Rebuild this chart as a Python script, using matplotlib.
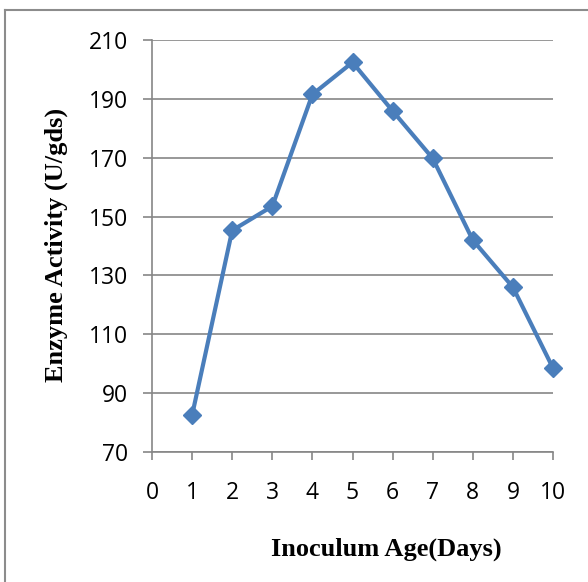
import matplotlib.pyplot as plt
from matplotlib.lines import Line2D

# inoculum age (days) vs enzyme activity
days = [1, 2, 3, 4, 5, 6, 7, 8, 9, 10]
activity = [82.5, 145.3, 153.5, 191.5, 202.4, 185.9, 169.8, 142.0, 126.0, 98.5]
y_ticks = [70, 90, 110, 130, 150, 170, 190, 210]
x_ticks = list(range(0, 11))

AXIS_GREY = "#868686"
LINE_BLUE = "#4A7EBB"

fig = plt.figure(figsize=(5.88, 5.82), dpi=100)
ax = fig.add_axes([152 / 588, 1 - 452 / 582, 401 / 588, 412 / 582])

ax.plot(days, activity, color=LINE_BLUE, linewidth=3, marker="D",
        markersize=9, markerfacecolor=LINE_BLUE, markeredgecolor=LINE_BLUE,
        clip_on=False, zorder=5)

ax.set_xlim(0, 10)
ax.set_ylim(70, 210)
ax.set_xticks(x_ticks)
ax.set_yticks(y_ticks)

for side in ["top", "right"]:
    ax.spines[side].set_visible(False)
for side in ["left", "bottom"]:
    ax.spines[side].set_color(AXIS_GREY)
    ax.spines[side].set_linewidth(1.2)

ax.yaxis.grid(True, color=AXIS_GREY, linewidth=1.2)
ax.set_axisbelow(True)

ax.tick_params(axis="both", colors=AXIS_GREY, width=1.2, labelcolor="black",
               labelsize=16.5)
ax.tick_params(axis="y", length=6.5, pad=11)
ax.tick_params(axis="x", length=6, pad=15)
for lbl in ax.get_xticklabels() + ax.get_yticklabels():
    lbl.set_fontfamily("Open Sans")

fig.text(386 / 588, 1 - 549 / 582, "Inoculum Age(Days)", ha="center",
         va="center", fontsize=19, fontweight="bold", family="Liberation Serif")
fig.text(56 / 588, 1 - 245 / 582, "Enzyme Activity (U/gds)", ha="center",
         va="center", rotation=90, fontsize=19, fontweight="bold",
         family="Liberation Serif")

# chart frame (only top and left edges visible in the crop)
fig.add_artist(Line2D([5 / 588, 1], [1 - 10 / 582, 1 - 10 / 582],
                      color="#8c8c8c", linewidth=1.5, transform=fig.transFigure))
fig.add_artist(Line2D([5 / 588, 5 / 588], [0, 1 - 10 / 582],
                      color="#8c8c8c", linewidth=1.5, transform=fig.transFigure))

fig.savefig("out.png", dpi=100)
